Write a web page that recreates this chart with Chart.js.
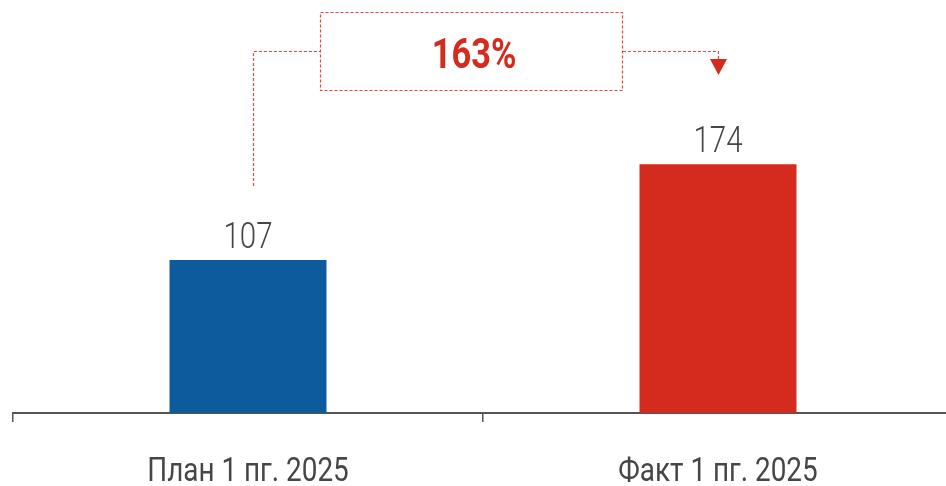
<!DOCTYPE html>
<html>
<head>
<meta charset="utf-8">
<script src="https://cdn.jsdelivr.net/npm/chart.js@4.4.1/dist/chart.umd.min.js"></script>
<style>
  html, body { margin: 0; padding: 0; background: #fff; overflow: hidden; }
  #wrap { width: 946px; height: 486px; overflow: hidden; }
</style>
</head>
<body>
<div id="wrap"><canvas id="barChart" width="966" height="486"></canvas></div>
<script>
var categories = ["План 1 пг. 2025", "Факт 1 пг. 2025"];
var values = [107, 174];
var barColors = ["#0d5b9d", "#d52b1e"];

var FONT = "Roboto, 'DejaVu Sans', sans-serif";

// the original uses a narrow DIN-like face, so squeeze the text a bit
function narrowText(ctx, txt, x, y, squeeze){
    ctx.save();
    ctx.translate(x, y);
    ctx.scale(squeeze, 1);
    ctx.fillText(txt, 0, 0);
    ctx.restore();
}

// category labels, values over bars, dotted "percent of plan" callout
var extras = {
    id: "extras",
    afterDatasetsDraw: function(chart){
        var ctx = chart.ctx;
        var xs = chart.scales.x;
        var meta = chart.getDatasetMeta(0);
        ctx.save();
        ctx.fillStyle = "#464646";
        ctx.textAlign = "center";
        ctx.textBaseline = "alphabetic";

        ctx.font = "34px " + FONT;
        var labels = xs.getLabels();
        for(var i = 0; i < labels.length; i++){
            narrowText(ctx, labels[i], xs.getPixelForValue(i), xs.bottom + 59, 0.82);
        }

        ctx.font = "300 36px " + FONT;
        for(var i = 0; i < meta.data.length; i++){
            var bar = meta.data[i];
            narrowText(ctx, values[i], bar.x, bar.y - 12, 0.82);
        }

        var b1 = meta.data[0], b2 = meta.data[1];
        var pct = Math.round(values[1] / values[0] * 100) + "%";
        var midX = (b1.x + b2.x) / 2 - 12;
        var boxL = Math.round(midX - 151), boxR = Math.round(midX + 151), boxT = 12, boxB = 90;
        var lineY = 51.5;
        var x1 = Math.round(b1.x + 5) + 0.5, x2 = Math.round(b2.x) + 0.5;

        ctx.strokeStyle = "#e4473f";
        ctx.lineWidth = 1.2;
        ctx.setLineDash([3, 2]);
        ctx.strokeRect(boxL + 0.5, boxT + 0.5, boxR - boxL, boxB - boxT);

        ctx.beginPath();
        ctx.moveTo(x1, b1.y - 74);
        ctx.lineTo(x1, lineY);
        ctx.lineTo(boxL, lineY);
        ctx.moveTo(boxR + 1, lineY);
        ctx.lineTo(x2, lineY);
        ctx.lineTo(x2, 60);
        ctx.stroke();
        ctx.setLineDash([]);

        ctx.fillStyle = "#d52b1e";
        ctx.beginPath();
        ctx.moveTo(x2 - 8.5, 59);
        ctx.lineTo(x2 + 8.5, 59);
        ctx.lineTo(x2, 75);
        ctx.closePath();
        ctx.fill();

        ctx.font = "bold 43px " + FONT;
        narrowText(ctx, pct, midX + 3, 68, 0.8);
        ctx.restore();
    }
};

var chart = new Chart(document.getElementById("barChart"), {
    type: "bar",
    data: {
        labels: categories,
        datasets: [{
            data: values,
            backgroundColor: barColors,
            categoryPercentage: 1,
            barPercentage: 0.334
        }]
    },
    options: {
        responsive: false,
        animation: false,
        devicePixelRatio: 1,
        layout: { padding: { left: 13, right: 13, top: 0, bottom: 64 } },
        plugins: { legend: { display: false }, tooltip: { enabled: false } },
        scales: {
            y: { display: false, min: 0, max: 289 },
            x: {
                grid: {
                    offset: true,
                    drawOnChartArea: false,
                    drawTicks: true,
                    tickLength: 9,
                    color: "#555",
                    lineWidth: 1.5
                },
                border: { display: true, color: "#555", width: 2 },
                ticks: { display: false }
            }
        }
    },
    plugins: [extras]
});
</script>
</body>
</html>
